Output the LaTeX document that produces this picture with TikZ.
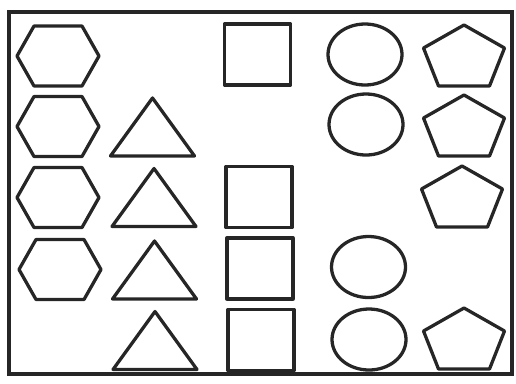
\documentclass[tikz,border=0pt]{standalone}
\usepackage{tikz}

\tikzset{
  shp/.style={line width=2.8pt,line join=round,black!85},
  pics/hexa/.style={code={\draw[shp] (-41,0)--(-24,-30)--(24,-30)--(41,0)--(24,30)--(-24,30)--cycle;}},
  pics/trian/.style={code={\draw[shp] (0,-29)--(42,29)--(-42,29)--cycle;}},
  pics/quad/.style={code={\draw[shp] (-33,-30.5) rectangle (33,30.5);}},
  pics/oval/.style={code={\draw[shp] (0,0) ellipse[x radius=37,y radius=30.5];}},
  pics/penta/.style={code={\draw[shp] (0,-30.5)--(40.5,-7.5)--(25.5,30.5)--(-25.5,30.5)--(-40.5,-7.5)--cycle;}}
}

\begin{document}
\begin{tikzpicture}[x=0.03cm,y=-0.03cm]
  \useasboundingbox (0,0) rectangle (516,383);
  % frame
  \draw[line width=3pt,black!85] (9,12) rectangle (512,374);
  % hexagons
  \foreach \x/\y in {58/56,58/126.5,58/197.5,60/269.5} \pic at (\x,\y) {hexa};
  % triangles
  \foreach \x/\y in {152.5/127,154/197.5,154.5/270,155/340.5} \pic at (\x,\y) {trian};
  % squares
  \foreach \x/\y in {257.5/54.5,259/197,260/268.5,261/340} \pic at (\x,\y) {quad};
  % circles
  \foreach \x/\y in {365/54.5,366/124.5,368.5/267,369/339.5} \pic at (\x,\y) {oval};
  % pentagons
  \foreach \x/\y in {464/55.5,464/125.5,462/196.5,464/338.5} \pic at (\x,\y) {penta};
\end{tikzpicture}
\end{document}
